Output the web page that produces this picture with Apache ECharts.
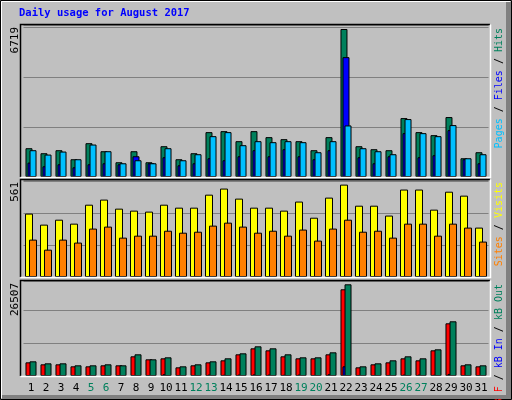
<!DOCTYPE html>
<html><head><meta charset="utf-8">
<script src="https://cdn.jsdelivr.net/npm/echarts@6/dist/echarts.min.js"></script>
<style>html,body{margin:0;padding:0;background:#c0c0c0}#c{width:512px;height:400px}</style>
</head><body><div id="c"></div>
<script>
const days = ['1','2','3','4','5','6','7','8','9','10','11','12','13','14','15','16','17','18','19','20','21','22','23','24','25','26','27','28','29','30','31'];
const weekendDays = ['5','6','12','13','19','20','26','27'];
const hits = [1307,1079,1216,806,1535,1170,669,1170,669,1398,806,1079,2037,2082,1626,2082,1809,1718,1626,1216,1809,6719,1398,1262,1216,2675,2037,1900,2721,851,1125];
const files = [654,486,578,441,578,623,578,942,623,897,532,623,851,760,942,1216,942,1262,942,806,1216,5442,897,623,942,1991,897,988,2128,806,623];
const pages = [1216,1018,1155,806,1474,1170,623,760,623,1307,760,1034,1854,2037,1444,1626,1581,1626,1581,1125,1626,2341,1307,1170,1034,2630,1991,1854,2356,851,1034];
const visits = [385,318,348,324,439,470,415,403,397,439,421,421,500,537,476,421,421,403,458,360,482,561,433,433,373,531,531,409,518,494,300];
const sites = [227,166,227,209,294,306,239,251,251,281,269,275,312,330,306,269,281,251,288,221,294,348,275,281,239,324,324,251,324,300,215];
const kbF = [3952,3374,3374,2796,2796,3085,3085,5688,4820,5109,2506,3085,3952,4531,6266,8001,7423,5688,5109,5109,6266,25064,2506,3374,3952,5109,4531,7423,15231,3085,2796];
const kbIn = [200,150,150,120,120,150,120,250,200,500,120,200,400,350,400,450,400,350,400,300,500,2796,300,200,300,400,400,350,600,150,120];
const kbOut = [4242,3663,3663,3085,3085,3374,3085,6266,4820,5398,2796,3374,4242,5109,6555,8580,8001,6266,5398,5398,6844,26507,2796,3663,4531,5688,5109,7712,15810,3374,3085];
const maxLabels = ['6719','561','26507'];

const chart = echarts.init(document.getElementById('c'), null, {renderer:'canvas'});
const FONT = '"DejaVu Sans Mono", monospace';
const panels = [
  {top:25, h:152, max:6901, interval:2270},
  {top:180, h:97, max:589, interval:194},
  {top:281, h:95, max:27461, interval:9539}
];
const grids = panels.map(p => ({left:23.5, width:465, top:p.top, height:p.h}));
const xAxes = panels.map((p,i) => ({
  type:'category', gridIndex:i, data:days, boundaryGap:true,
  axisLine:{show:false}, axisTick:{show:false},
  axisLabel: i===2 ? {show:true, margin:7, fontFamily:FONT, fontSize:11,
     color: (v)=> weekendDays.includes(v) ? '#00805c' : '#000', interval:0} : {show:false}
}));
const yAxes = panels.map((p,i) => ({
  type:'value', gridIndex:i, min:0, max:p.max, interval:p.interval,
  axisLine:{show:false}, axisTick:{show:false}, axisLabel:{show:false},
  splitLine:{show:true, lineStyle:{color:'#808080', width:1}}
}));
function bar(data, color, i, w, gap){
  return {type:'bar', data, xAxisIndex:i, yAxisIndex:i, barWidth:w, barGap:gap,
    itemStyle:{color, borderColor:'#000', borderWidth:1}, silent:true, animation:false};
}
const series = [
  bar(hits,'#00805c',0,7,'-71%'), bar(files,'#0000ff',0,7,'-71%'), bar(pages,'#00c0ff',0,7,'-71%'),
  bar(visits,'#ffff00',1,8,'-50%'), bar(sites,'#ff8000',1,8,'-50%'),
  bar(kbF,'#ff0000',2,7,'-71%'), bar(kbIn,'#0000ff',2,7,'-71%'), bar(kbOut,'#00805c',2,7,'-71%')
];
const g = [];
// frame
g.push({type:'rect', shape:{x:0.5,y:0.5,width:511,height:399}, style:{fill:'none', stroke:'#000'}, z:1});
g.push({type:'polyline', shape:{points:[[1.5,398],[1.5,1.5],[510,1.5]]}, style:{stroke:'#fff', fill:'none'}, z:1});
g.push({type:'rect', shape:{x:506,y:2,width:5,height:397}, style:{fill:'#808080'}, z:1});
g.push({type:'rect', shape:{x:2,y:395,width:509,height:4}, style:{fill:'#808080'}, z:1});
panels.forEach((p,i) => {
  const t = p.top, b = p.top + p.h;
  g.push({type:'polyline', shape:{points:[[20.5,b],[20.5,t-0.5],[490,t-0.5]]}, style:{stroke:'#000', lineWidth:1.5, fill:'none'}, z:100});
  g.push({type:'polyline', shape:{points:[[20.5,b+0.5],[490.5,b+0.5],[490.5,t-0.5]]}, style:{stroke:'#fff', lineWidth:1.5, fill:'none'}, z:100});
  g.push({type:'text', x:15, y:t+2, rotation:Math.PI/2,
    style:{text:maxLabels[i], font:'11px '+FONT, fill:'#000', align:'right', verticalAlign:'middle'}, z:100});
});
const rl = [
  {y:28, text:'{a|Pages} {s|/} {b|Files} {s|/} {c|Hits}', rich:{a:{fill:'#00c0ff'},b:{fill:'#0000ff'},c:{fill:'#00805c'}}},
  {y:182, text:'{a|Sites} {s|/} {b|Visits}', rich:{a:{fill:'#ff8000'},b:{fill:'#ffff00'}}},
  {y:284, text:'{a|kB F} {s|/} {b|kB In} {s|/} {c|kB Out}', rich:{a:{fill:'#ff0000'},b:{fill:'#0000ff'},c:{fill:'#00805c'}}}
];
rl.forEach(r => {
  const rich = {};
  Object.keys(r.rich).forEach(k => rich[k] = {fill:r.rich[k].fill, font:'10px '+FONT});
  rich.s = {fill:'#000', font:'10px '+FONT};
  g.push({type:'text', x:499, y:r.y, rotation:Math.PI/2,
    style:{text:r.text, rich, font:'10px '+FONT, align:'right', verticalAlign:'middle'}, z:100});
});
g.push({type:'text', x:19, y:13, style:{text:'Daily usage for August 2017', font:'bold 10.5px '+FONT, fill:'#0000ff', verticalAlign:'middle'}, z:100});

chart.setOption({
  backgroundColor:'#c0c0c0', animation:false,
  grid:grids, xAxis:xAxes, yAxis:yAxes, series, graphic:g
});
</script></body></html>
